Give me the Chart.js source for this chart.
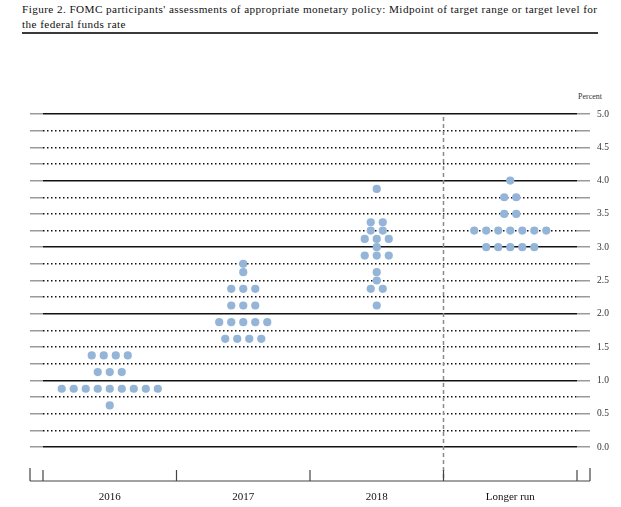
<!DOCTYPE html>
<html>
<head>
<meta charset="utf-8">
<script src="https://cdn.jsdelivr.net/npm/chart.js@4.4.1/dist/chart.umd.min.js"></script>
<style>
  body { margin: 0; background: #fff; }
  #title {
    position: absolute; left: 22px; top: 2px; width: 576px;
    font: 11.2px/15px 'Liberation Serif', serif; color: #111;
    letter-spacing: 0.42px;
    border-bottom: 2px solid #3a3a3a; white-space: nowrap;
  }
  #unit {
    position: absolute; left: 578px; top: 92px;
    font: 8px 'Liberation Serif', serif; color: #333;
  }
  canvas { position: absolute; left: 0; top: 0; }
</style>
</head>
<body>
<div id="title">Figure 2. FOMC participants' assessments of appropriate monetary policy: Midpoint of target range or target level for<br>the federal funds rate</div>
<div id="unit">Percent</div>
<canvas id="dots" width="621" height="507"></canvas>
<script>
// categories and participants' projections (one value per dot)
const categories = ['2016', '2017', '2018', 'Longer run'];
const r2016 = [0.625, 0.875, 0.875, 0.875, 0.875, 0.875, 0.875, 0.875, 0.875, 0.875, 1.125, 1.125, 1.125, 1.375, 1.375, 1.375, 1.375];
const r2017 = [1.625, 1.625, 1.625, 1.625, 1.875, 1.875, 1.875, 1.875, 1.875, 2.125, 2.125, 2.125, 2.375, 2.375, 2.375, 2.625, 2.75];
const r2018 = [2.125, 2.375, 2.375, 2.5, 2.625, 2.875, 2.875, 2.875, 3.0, 3.125, 3.125, 3.125, 3.25, 3.25, 3.375, 3.375, 3.875];
const rLonger = [3.0, 3.0, 3.0, 3.0, 3.0, 3.25, 3.25, 3.25, 3.25, 3.25, 3.25, 3.25, 3.5, 3.5, 3.75, 3.75, 4.0];
const yLabels = ['0.0', '0.5', '1.0', '1.5', '2.0', '2.5', '3.0', '3.5', '4.0', '4.5', '5.0'];

const DOT_STEP = 0.09; // horizontal spacing of dots, in category widths

// gridlines every quarter point
const gridVals = [];
for (let v = 0; v <= 5; v += 0.25) gridVals.push(v);

// spread equal values side by side around the category centre
function toPoints(values, cat) {
    const counts = {};
    values.forEach(v => { counts[v] = (counts[v] || 0) + 1; });
    const pts = [];
    Object.keys(counts).forEach(k => {
        const n = counts[k];
        for (let j = 0; j < n; j++) {
            pts.push({ x: cat + (j - (n - 1) / 2) * DOT_STEP, y: Number(k) });
        }
    });
    return pts;
}

const allPoints = [r2016, r2017, r2018, rLonger].flatMap((vals, i) => toPoints(vals, i));

const isWhole = v => Math.abs(v - Math.round(v)) < 1e-9;

// axis frame at the bottom and the dashed separator before "Longer run"
const frame = {
    id: 'frame',
    beforeDatasetsDraw(chart) {
        const { ctx, chartArea: a, scales: { x } } = chart;
        const sx = x.getPixelForValue(2.5);
        ctx.save();
        ctx.strokeStyle = '#8a8a8a';
        ctx.lineWidth = 1.5;
        ctx.setLineDash([4, 3]);
        ctx.beginPath();
        ctx.moveTo(sx, a.top + 3);
        ctx.lineTo(sx, a.bottom);
        ctx.stroke();
        ctx.restore();
    },
    afterDraw(chart) {
        const { ctx, chartArea: a, scales: { x } } = chart;
        const l = a.left - 13, r = a.right + 13, b = a.bottom;
        ctx.save();
        ctx.strokeStyle = '#444';
        ctx.lineWidth = 1.2;
        ctx.beginPath();
        ctx.moveTo(l, b);
        ctx.lineTo(r, b);
        [l, r].forEach(px => { ctx.moveTo(px, b); ctx.lineTo(px, b - 13); });
        [-0.5, 0.5, 1.5, 2.5, 3.5].forEach(v => {
            const px = x.getPixelForValue(v);
            ctx.moveTo(px, b);
            ctx.lineTo(px, b - 11);
        });
        ctx.stroke();
        ctx.restore();
    }
};

new Chart(document.querySelector('#dots'), {
    type: 'scatter',
    data: {
        datasets: [{
            data: allPoints,
            pointRadius: 4.1,
            pointHoverRadius: 4.1,
            pointBackgroundColor: '#94b5d8',
            pointBorderWidth: 0,
        }]
    },
    options: {
        responsive: false,
        animation: false,
        layout: { padding: { left: 30, right: 0, top: 114, bottom: 0 } },
        scales: {
            x: {
                type: 'linear',
                min: -0.5,
                max: 3.5,
                afterBuildTicks: s => { s.ticks = categories.map((c, i) => ({ value: i })); },
                afterFit: s => { s.height = 26; },
                grid: { display: false, drawTicks: false },
                border: { display: false },
                ticks: {
                    padding: 10,
                    color: '#111',
                    font: { family: 'Liberation Serif', size: 11 },
                    callback: v => categories[v],
                },
            },
            // solid lines at whole percents
            y: {
                position: 'left',
                min: -0.51,
                max: 5,
                afterBuildTicks: s => { s.ticks = gridVals.map(v => ({ value: v })); },
                afterFit: s => { s.width = 13; },
                border: { display: false },
                grid: {
                    color: c => isWhole(c.tick.value) ? '#111' : 'rgba(0,0,0,0)',
                    lineWidth: 1.5,
                    tickColor: '#9a9a9a',
                    tickWidth: 1.5,
                    tickLength: 13,
                },
                ticks: { display: false },
            },
            // dotted lines at quarter points, labels on the right
            y1: {
                position: 'right',
                min: -0.51,
                max: 5,
                afterBuildTicks: s => { s.ticks = gridVals.map(v => ({ value: v })); },
                afterFit: s => { s.width = 44; },
                border: { display: false, dash: [1.5, 2.5] },
                grid: {
                    color: c => isWhole(c.tick.value) ? 'rgba(0,0,0,0)' : '#111',
                    lineWidth: 1.5,
                    tickColor: '#9a9a9a',
                    tickWidth: 1.5,
                    tickLength: 13,
                },
                ticks: {
                    padding: 7,
                    color: '#333',
                    font: { family: 'Liberation Serif', size: 9.5 },
                    callback: v => isWhole(v * 2) ? yLabels[Math.round(v * 2)] : '',
                },
            },
        },
        plugins: {
            legend: { display: false },
            tooltip: { enabled: false },
        }
    },
    plugins: [frame]
});
</script>
</body>
</html>
